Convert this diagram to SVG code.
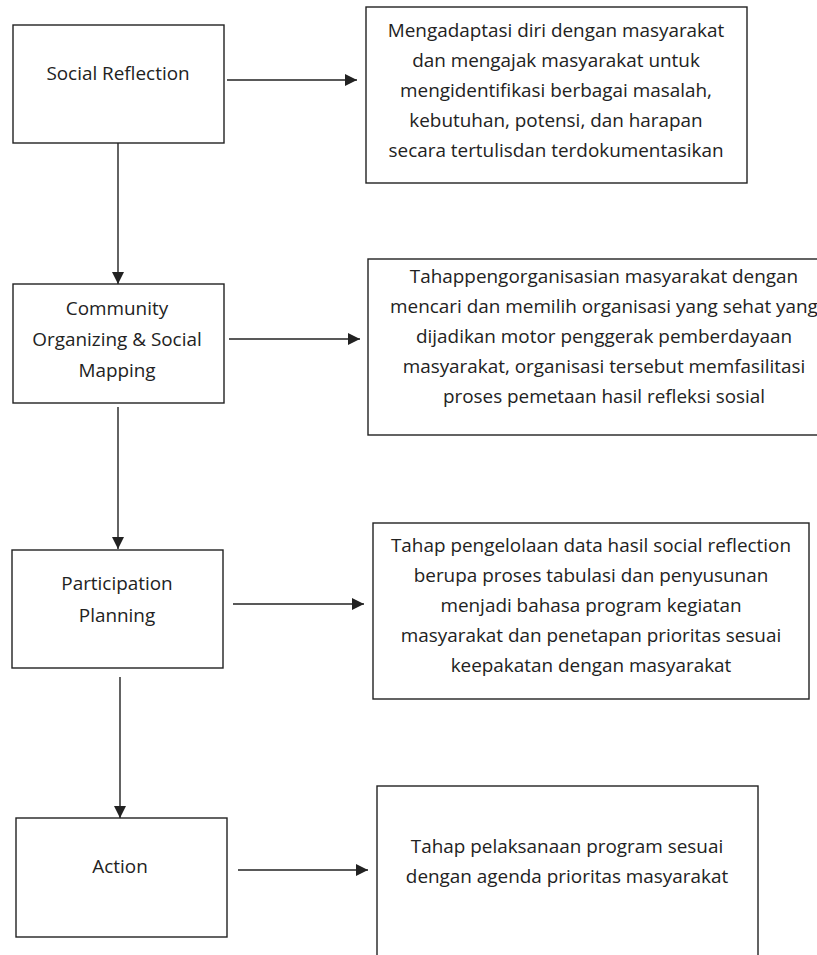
<svg xmlns="http://www.w3.org/2000/svg" width="817" height="955" viewBox="0 0 817 955">
<defs>
<style>
.box{fill:#fff;stroke:#222;stroke-width:1.4}
.t{font-family:"Open Sans","Liberation Sans",sans-serif;font-size:18.9px;fill:#222;text-anchor:middle}
.c{stroke:#222;stroke-width:1.4;fill:none}
</style>
<marker id="ah" markerWidth="12" markerHeight="12" viewBox="0 0 12 12" refX="12" refY="6" orient="auto" markerUnits="userSpaceOnUse">
<path d="M0,0 L12,6 L0,12 Z" fill="#222"/>
</marker>
</defs>
<rect width="817" height="955" fill="#fff"/>
<g id="n1">
<rect class="box" x="13" y="25" width="211" height="118"/>
<text class="t" x="118" y="80">Social Reflection</text>
</g>
<g id="d1">
<rect class="box" x="366" y="7" width="381" height="176"/>
<text class="t" x="556" y="37">Mengadaptasi diri dengan masyarakat</text>
<text class="t" x="556" y="67">dan mengajak masyarakat untuk</text>
<text class="t" x="556" y="97">mengidentifikasi berbagai masalah,</text>
<text class="t" x="556" y="127">kebutuhan, potensi, dan harapan</text>
<text class="t" x="556" y="157">secara tertulisdan terdokumentasikan</text>
</g>
<g id="n2">
<rect class="box" x="13" y="284" width="211" height="119"/>
<text class="t" x="117" y="315">Community</text>
<text class="t" x="117" y="346">Organizing &amp; Social</text>
<text class="t" x="117" y="377">Mapping</text>
</g>
<g id="d2">
<rect class="box" x="368" y="259" width="472" height="176"/>
<text class="t" x="604" y="283">Tahappengorganisasian masyarakat dengan</text>
<text class="t" x="604" y="313">mencari dan memilih organisasi yang sehat yang</text>
<text class="t" x="604" y="343">dijadikan motor penggerak pemberdayaan</text>
<text class="t" x="604" y="373">masyarakat, organisasi tersebut memfasilitasi</text>
<text class="t" x="604" y="403">proses pemetaan hasil refleksi sosial</text>
</g>
<g id="n3">
<rect class="box" x="12" y="550" width="211" height="118"/>
<text class="t" x="117" y="590">Participation</text>
<text class="t" x="117" y="622">Planning</text>
</g>
<g id="d3">
<rect class="box" x="373" y="523" width="436" height="176"/>
<text class="t" x="591" y="552">Tahap pengelolaan data hasil social reflection</text>
<text class="t" x="591" y="582">berupa proses tabulasi dan penyusunan</text>
<text class="t" x="591" y="612">menjadi bahasa program kegiatan</text>
<text class="t" x="591" y="642">masyarakat dan penetapan prioritas sesuai</text>
<text class="t" x="591" y="672">keepakatan dengan masyarakat</text>
</g>
<g id="n4">
<rect class="box" x="16" y="818" width="211" height="119"/>
<text class="t" x="120" y="873">Action</text>
</g>
<g id="d4">
<rect class="box" x="377" y="786" width="381" height="200"/>
<text class="t" x="567" y="853">Tahap pelaksanaan program sesuai</text>
<text class="t" x="567" y="883">dengan agenda prioritas masyarakat</text>
</g>
<g id="connectors">
<line class="c" x1="227" y1="80" x2="357" y2="80" marker-end="url(#ah)"/>
<line class="c" x1="118" y1="143" x2="118" y2="284" marker-end="url(#ah)"/>
<line class="c" x1="229" y1="339" x2="360" y2="339" marker-end="url(#ah)"/>
<line class="c" x1="118" y1="407" x2="118" y2="549" marker-end="url(#ah)"/>
<line class="c" x1="233" y1="604" x2="364" y2="604" marker-end="url(#ah)"/>
<line class="c" x1="120" y1="677" x2="120" y2="818" marker-end="url(#ah)"/>
<line class="c" x1="238" y1="870" x2="368" y2="870" marker-end="url(#ah)"/>
</g>
</svg>
